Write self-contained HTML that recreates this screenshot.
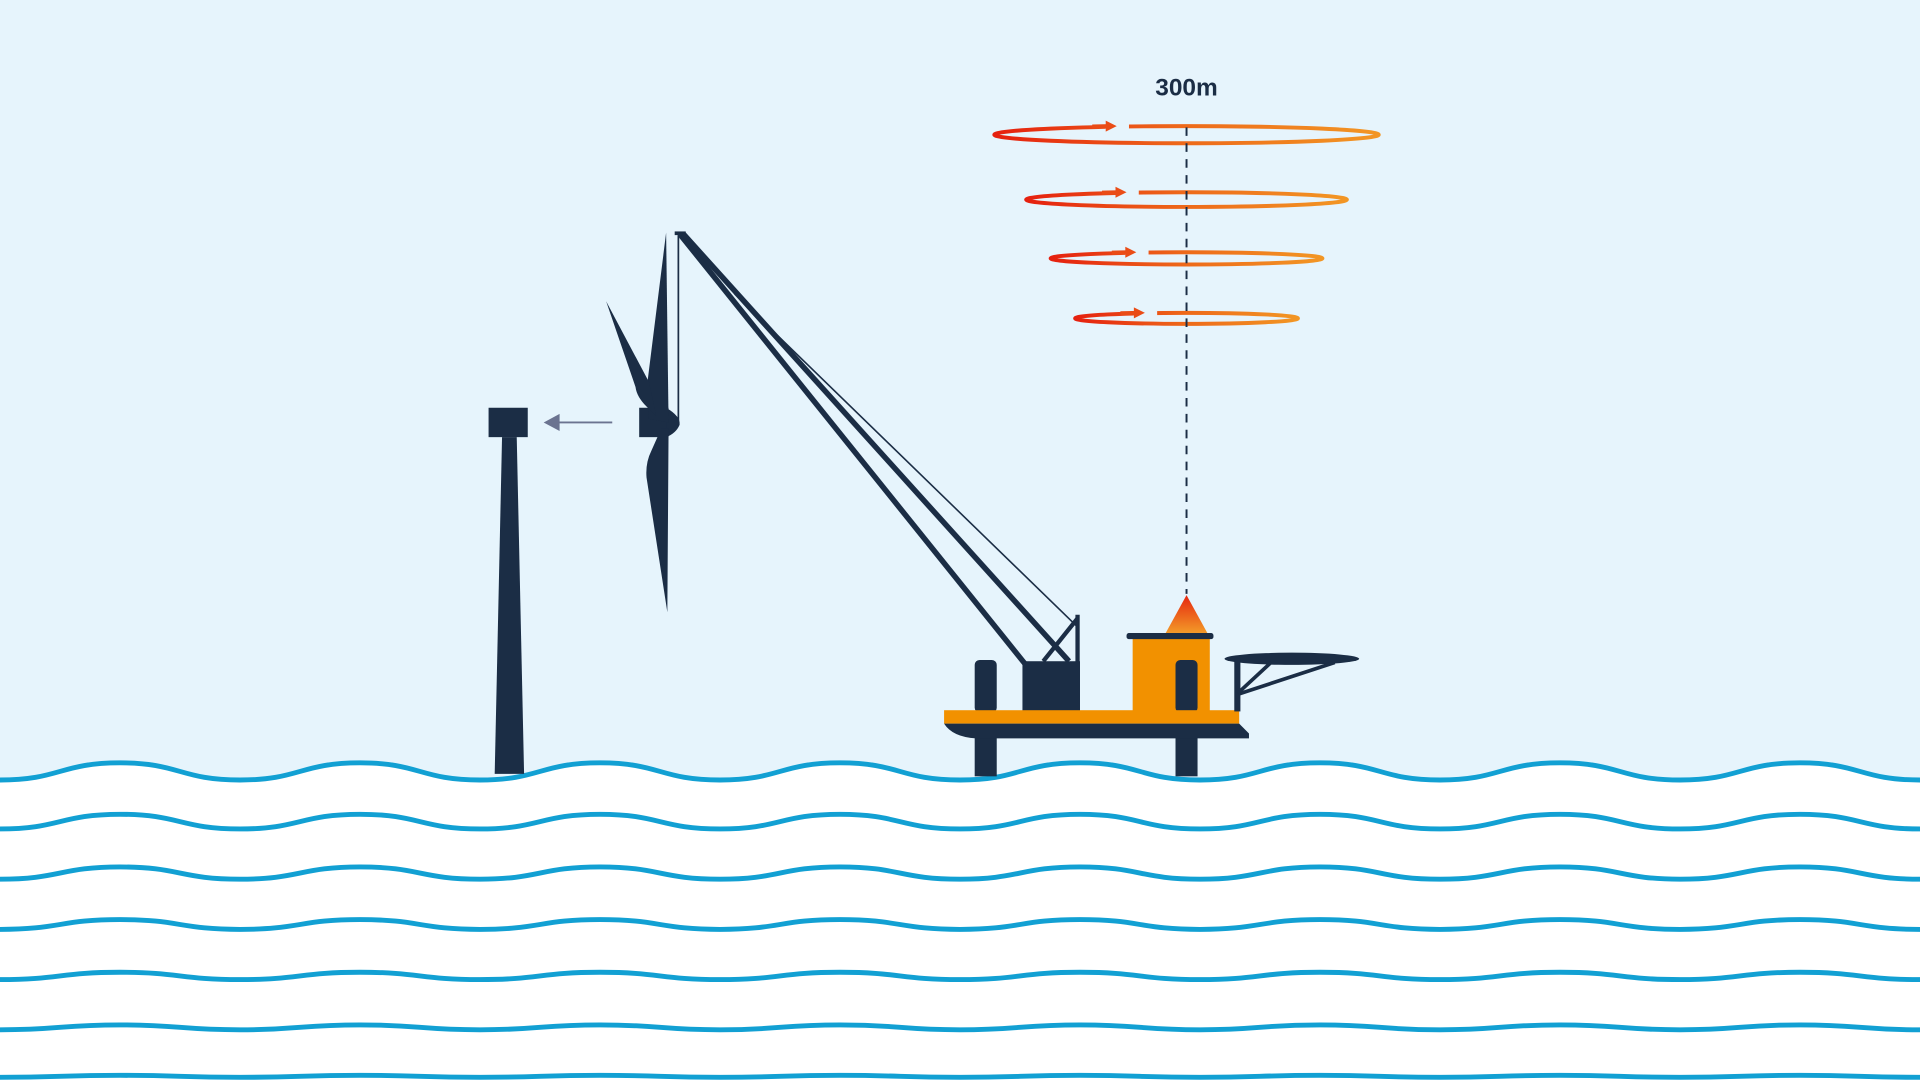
<!DOCTYPE html>
<html><head><meta charset="utf-8"><style>
html,body{margin:0;padding:0;width:1920px;height:1080px;overflow:hidden;background:#e6f4fc}
svg{display:block}
</style></head><body>
<svg id="s" width="1920" height="1080" viewBox="0 0 1568 882" xmlns="http://www.w3.org/2000/svg">
<defs>
<linearGradient id="rg" x1="0" x2="1" y1="0" y2="0"><stop offset="0" stop-color="#e5200f"/><stop offset="0.5" stop-color="#ee6a1a"/><stop offset="1" stop-color="#f29624"/></linearGradient>
<linearGradient id="tg" x1="0" x2="0" y1="0" y2="1"><stop offset="0" stop-color="#e5260f"/><stop offset="1" stop-color="#f39a28"/></linearGradient>
</defs>
<rect width="1568" height="882" fill="#e6f4fc"/>
<g id="waves"></g>
<g id="rings"></g>
<text x="969" y="78" text-anchor="middle" font-family="Liberation Sans, sans-serif" font-weight="bold" font-size="20" fill="#1b2d45">300m</text>
<line x1="969" y1="104" x2="969" y2="485" stroke="#1b2d45" stroke-width="1.6" stroke-dasharray="7,6"/>
<!-- tower -->
<polygon points="404,632 410,357 422,357 428,632" fill="#1b2d45"/>
<rect x="399" y="333" width="32" height="24" fill="#1b2d45"/>
<line x1="500" y1="345" x2="455" y2="345" stroke="#6b7390" stroke-width="1.6"/>
<polygon points="444,345 457,338 457,352" fill="#6b7390"/>
<!-- blades -->
<rect x="522" y="333" width="24" height="24" fill="#1b2d45"/>
<path d="M544,333 Q556,340 555,347 Q552,354 544,357 Z" fill="#1b2d45"/>
<path d="M544,190 L546,345 L530,342 L529,310 Z" fill="#1b2d45"/>
<path d="M495,246 L530,312 L536,340 L528,332 Q520,324 519,316 Z" fill="#1b2d45"/>
<path d="M540,350 L546,350 L545,500 L528,390 Q527,378 532,368 Z" fill="#1b2d45"/>
<line x1="554" y1="192" x2="554" y2="345" stroke="#1b2d45" stroke-width="1.4"/>
<rect x="551" y="189" width="9" height="3" fill="#1b2d45"/>
<!-- crane -->
<line x1="555" y1="191" x2="837" y2="542" stroke="#1b2d45" stroke-width="4.5"/>
<line x1="558" y1="191" x2="873" y2="540" stroke="#1b2d45" stroke-width="4.5"/>
<line x1="600" y1="240" x2="880" y2="512" stroke="#1b2d45" stroke-width="1.3"/>
<line x1="880" y1="502" x2="880" y2="542" stroke="#1b2d45" stroke-width="3.5"/>
<line x1="880" y1="505" x2="852" y2="540" stroke="#1b2d45" stroke-width="3.5"/>
<rect x="835" y="540" width="47" height="41" fill="#1b2d45"/>
<!-- platform -->
<rect x="796" y="600" width="18" height="34" fill="#1b2d45"/>
<rect x="960" y="600" width="18" height="34" fill="#1b2d45"/>
<rect x="925" y="520" width="63" height="62" fill="#f29100"/>
<rect x="920" y="517" width="71" height="5" rx="2" fill="#1b2d45"/>
<polygon points="952,517 969,486 986,517" fill="url(#tg)"/>
<rect x="796" y="539" width="18" height="43" rx="4" fill="#1b2d45"/>
<rect x="960" y="539" width="18" height="43" rx="4" fill="#1b2d45"/>
<rect x="771" y="580" width="241" height="11" fill="#f29100"/>
<path d="M771,591 L1012,591 L1020,599 L1020,603 L797,603 Q778,602 771,591 Z" fill="#1b2d45"/>
<!-- helideck -->
<ellipse cx="1055" cy="538" rx="55" ry="5" fill="#1b2d45"/>
<rect x="1008" y="538" width="5" height="43" fill="#1b2d45"/>
<line x1="1011" y1="567" x2="1090" y2="541" stroke="#1b2d45" stroke-width="3"/>
<line x1="1011" y1="566" x2="1038" y2="541" stroke="#1b2d45" stroke-width="3"/>
</svg>
<script>
var NS="http://www.w3.org/2000/svg";
function el(n,a,p){var e=document.createElementNS(NS,n);for(var k in a)e.setAttribute(k,a[k]);p.appendChild(e);return e;}
var W=document.getElementById("waves");
var ys=[630,671,713,755,797,839,879],amps=[7,6,5,4,3,2,0.8];
function wpath2(y,a){var d="M-196,"+(y+a);for(var x=-196;x<1700;x+=196){d+=" C"+(x+49)+","+(y+a)+" "+(x+49)+","+(y-a)+" "+(x+98)+","+(y-a)+" C"+(x+147)+","+(y-a)+" "+(x+147)+","+(y+a)+" "+(x+196)+","+(y+a);}return d;}
el("path",{d:wpath2(ys[0],amps[0])+" L1700,900 L-196,900 Z",fill:"#fff"},W);
for(var i=0;i<ys.length;i++)el("path",{d:wpath2(ys[i],amps[i]),fill:"none",stroke:"#12a0d3","stroke-width":4},W);
var R=document.getElementById("rings");
var rings=[[110,157,7,912],[163,131,6,920],[211,111,5,928],[260,91,4.5,935]];
rings.forEach(function(r){var cy=r[0],rx=r[1],ry=r[2],tip=r[3];
 el("ellipse",{cx:969,cy:cy,rx:rx,ry:ry,fill:"none",stroke:"url(#rg)","stroke-width":3.2},R);
 el("rect",{x:tip-9,y:cy-ry-4,width:19,height:7,fill:"#e6f4fc"},R);
 el("line",{x1:tip-20,y1:cy-ry+0.3,x2:tip-6,y2:cy-ry,stroke:"#ea4c16","stroke-width":3.2},R);
 el("polygon",{points:(tip-9)+","+(cy-ry-4.5)+" "+tip+","+(cy-ry)+" "+(tip-9)+","+(cy-ry+4.5),fill:"#ea4c16"},R);
});
</script>
</body></html>
